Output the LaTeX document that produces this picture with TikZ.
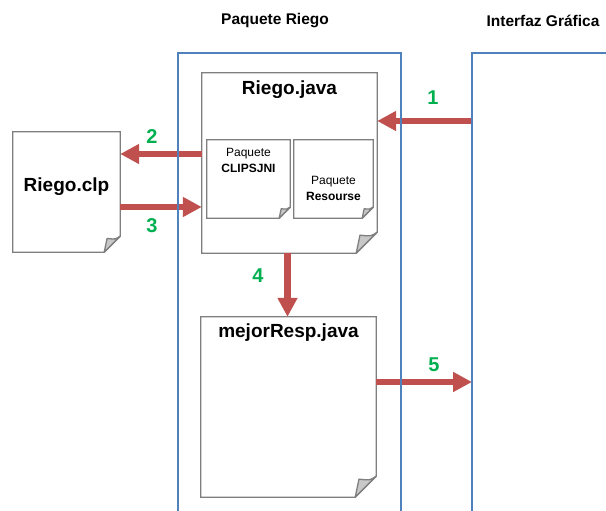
\documentclass[tikz,border=0pt]{standalone}
\usepackage{xcolor}
\usepackage{fontspec}
\setmainfont{Liberation Sans}
\usetikzlibrary{arrows.meta, positioning}
\definecolor{flowred}{HTML}{C0504D}
\definecolor{stepgreen}{HTML}{00B050}
\definecolor{frameblue}{HTML}{4F81BD}
\definecolor{pagegray}{HTML}{7F7F7F}
\definecolor{foldgray}{HTML}{C8C8C8}
\tikzset{
    docpage/.style={rectangle, inner sep=0pt, minimum width=#1},
    pageline/.style={draw=pagegray, line width=1.3pt},
    frame/.style={draw=frameblue, line width=2.6pt},
    flowarrow/.style={draw=flowred, line width=6.5pt, -{Triangle[length=19pt, width=19pt]}},
    steplabel/.style={text=stepgreen, font=\fontsize{20}{22}\selectfont\bfseries},
    pkgtitle/.style={font=\fontsize{15.5}{18}\selectfont\bfseries},
    doctitle/.style={font=\fontsize{19}{22}\selectfont\bfseries},
    subtext/.style={font=\fontsize{12}{16}\selectfont, align=center}
}
% page outline with the folded bottom right corner
\newcommand{\pagefold}[2]{%
    \draw[pageline, fill=white] (#1.south west) -- (#1.north west) -- (#1.north east)
        -- ([yshift=#2]#1.south east) -- ([xshift=-#2]#1.south east) -- cycle;
    \draw[pageline, fill=foldgray, line join=round] ([yshift=#2]#1.south east)
        .. controls +(-0.3*#2, -0.2*#2) .. ([shift={(-0.82*#2, 0.86*#2)}]#1.south east)
        -- ([xshift=-#2]#1.south east) -- cycle;
}

\begin{document}
\begin{tikzpicture}[x=1pt, y=1pt]
    \useasboundingbox (0,0) rectangle (606,511);

    % Documents
    \node[docpage=175, minimum height=180] (riegojava) at (289.5,348) {};
    \pagefold{riegojava}{21pt}
    \node[docpage=83, minimum height=78] (clipsjni) at (248.5,332) {};
    \pagefold{clipsjni}{11pt}
    \node[docpage=79, minimum height=78] (resourse) at (333.5,332) {};
    \pagefold{resourse}{11pt}
    \node[docpage=107, minimum height=120] (riegoclp) at (66.5,319) {};
    \pagefold{riegoclp}{16pt}
    \node[docpage=175, minimum height=180] (mejorresp) at (288.5,104) {};
    \pagefold{mejorresp}{21pt}

    % Texts
    \node[doctitle] (riegojavat) at ([yshift=-17pt]riegojava.north) {Riego.java};
    \node[subtext, anchor=north] (clipsjnit) at ([yshift=-5pt]clipsjni.north) {Paquete\\\textbf{CLIPSJNI}};
    \node[subtext] (resourset) at ([yshift=-9pt]resourse.center) {Paquete\\\textbf{Resourse}};
    \node[doctitle] (riegoclpt) at ([yshift=5pt]riegoclp.center) {Riego.clp};
    \node[doctitle] (mejorrespt) at ([yshift=-16pt]mejorresp.north) {mejorResp.java};
    \node[pkgtitle] (riegotitle) at (275,490) {Paquete Riego};
    \node[pkgtitle] (guititle) at (543,490) {Interfaz Gráfica};

    % Flow arrows
    \coordinate (guiin) at (472,390);
    \coordinate (guiout) at (472,129);
    \draw[flowarrow] (guiin) -- (guiin -| riegojava.east);
    \draw[flowarrow] (riegojava.west |- 0,357) -- (riegoclp.east |- 0,357);
    \draw[flowarrow] (riegoclp.east |- 0,304) -- (riegojava.west |- 0,304);
    \draw[flowarrow] ([xshift=-2pt]riegojava.south) -- ([xshift=-1pt]mejorresp.north);
    \draw[flowarrow] (mejorresp.east |- guiout) -- (guiout);

    \node[steplabel] (n1) at (433,413) {1};
    \node[steplabel] (n2) at (152,374) {2};
    \node[steplabel] (n3) at (152,285) {3};
    \node[steplabel] (n4) at (258,235) {4};
    \node[steplabel] (n5) at (434,146) {5};

    % Package frames
    \draw[frame] (178,0) -- (178,458) -- (401,458) -- (401,0);
    \draw[frame] (472,0) -- (472,458) -- (606,458);
\end{tikzpicture}
\end{document}
